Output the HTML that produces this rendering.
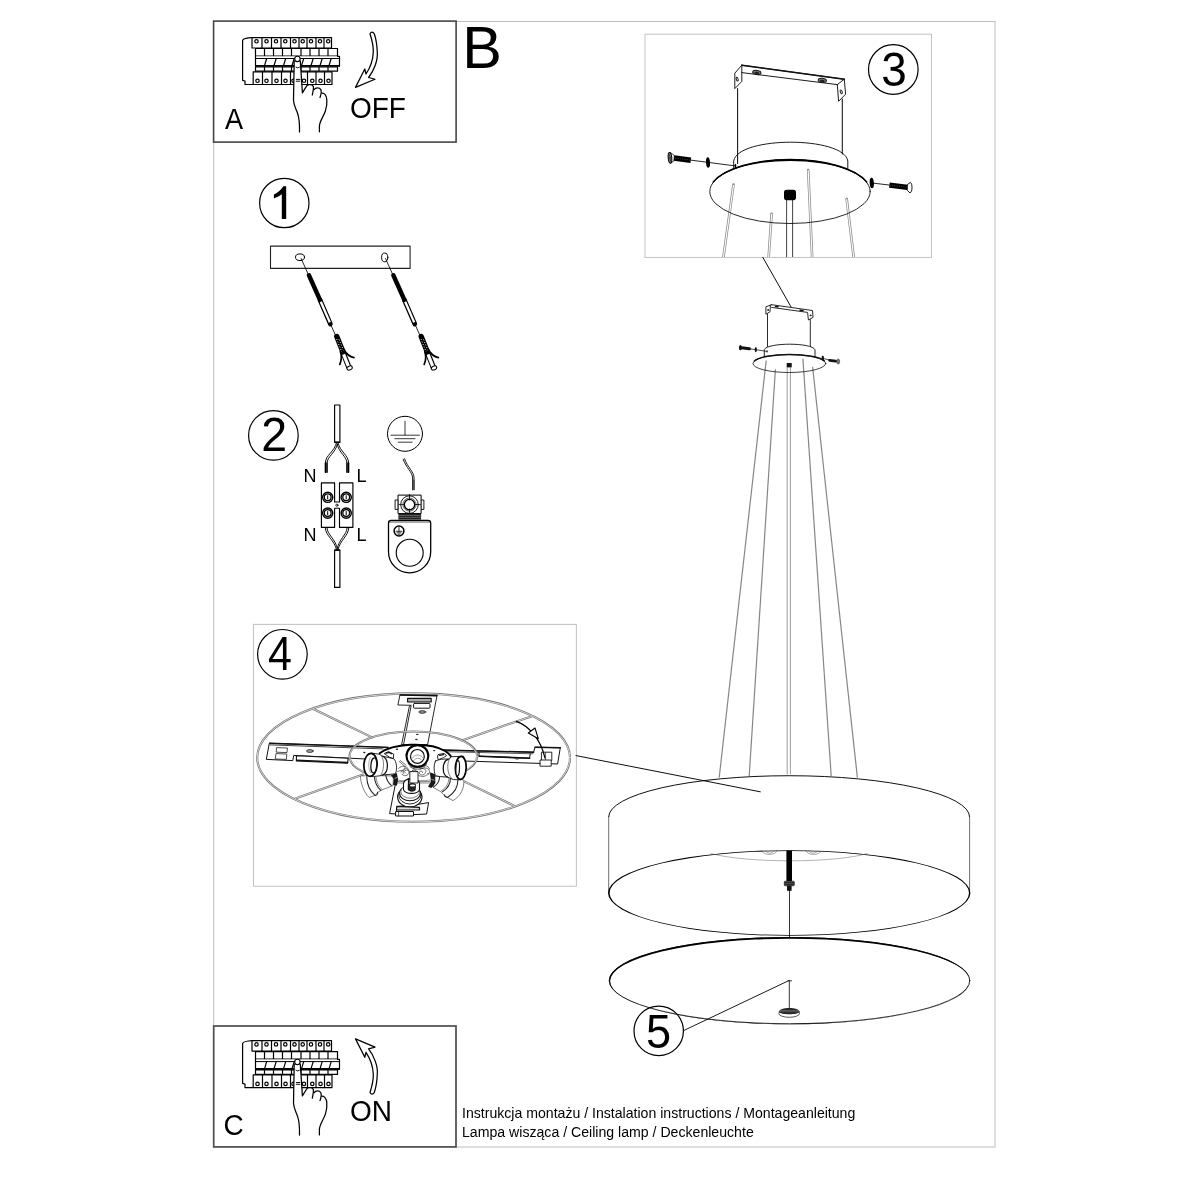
<!DOCTYPE html>
<html><head><meta charset="utf-8">
<style>
html,body{margin:0;padding:0;background:#fff;}
body{width:1200px;height:1200px;overflow:hidden;font-family:"Liberation Sans",sans-serif;}
svg{display:block;position:absolute;left:0;top:0;will-change:transform;}
text{font-family:"Liberation Sans",sans-serif;fill:#000;}
</style></head>
<body>
<svg width="1200" height="1200" viewBox="0 0 1200 1200">
<rect x="0" y="0" width="1200" height="1200" fill="#fff"/>
<!-- FRAMES -->
<g id="frames">
<rect x="213.7" y="21.45" width="781.3" height="1125.55" fill="none" stroke="#bcbcbc" stroke-width="1"/>
<rect x="645" y="34.2" width="286.45" height="223.25" fill="none" stroke="#c4c4c4" stroke-width="1"/>
<rect x="253.5" y="624.4" width="322.9" height="261.85" fill="none" stroke="#c4c4c4" stroke-width="1.05"/>
<rect x="213.6" y="21.1" width="242.5" height="121" fill="#fff" stroke="#454545" stroke-width="1.6"/>
<rect x="213.7" y="1026" width="242.3" height="120.9" fill="#fff" stroke="#4d4d4d" stroke-width="1.7"/>
</g>
<!-- TEXT -->
<g id="labels">
<text x="462.25" y="67.9" font-size="59.4">B</text>
<text transform="translate(224.9,128.9) scale(0.97,1.055)" font-size="28">A</text>
<text transform="translate(349.9,117.9) scale(1,1.055)" font-size="28">OFF</text>
<text transform="translate(223.4,1135.1) scale(1,1.055)" font-size="28">C</text>
<text transform="translate(349.9,1120.9) scale(1,1.055)" font-size="28">ON</text>
<text x="462" y="1117.9" font-size="14.1" fill="#1a1a1a">Instrukcja montażu / Instalation instructions / Montageanleitung</text>
<text x="462" y="1136.7" font-size="14.12" fill="#1a1a1a">Lampa wisząca / Ceiling lamp / Deckenleuchte</text>
<text x="303.4" y="482" font-size="18">N</text>
<text x="356.6" y="482" font-size="18">L</text>
<text x="303.4" y="540.8" font-size="18">N</text>
<text x="356.6" y="540.8" font-size="18">L</text>
</g>
<!-- NUMBER CIRCLES -->
<g id="nums" font-size="47" text-anchor="middle">
<circle cx="284.3" cy="203" r="24.7" stroke="#000" fill="none" stroke-width="1.2" stroke-linecap="round" stroke-linejoin="round"/>
<path d="M281.8,218.9 L281.8,194.3 C279.5,196 276.5,197.6 273.9,198.4 L273.9,194.6 C277.6,192.9 281.4,189.9 283.3,186.3 L286.2,186.3 L286.2,218.9 Z" fill="#000"/>
<circle cx="273.4" cy="435.4" r="24.8" stroke="#000" fill="none" stroke-width="1.2" stroke-linecap="round" stroke-linejoin="round"/><text transform="translate(261.2,451.2) scale(0.99,1.03)" text-anchor="start">2</text>
<circle cx="893.3" cy="69.5" r="24.8" stroke="#000" fill="none" stroke-width="1.2" stroke-linecap="round" stroke-linejoin="round"/><text transform="translate(881.15,85.9) scale(0.975,1.035)" text-anchor="start">3</text>
<circle cx="282.4" cy="654.3" r="24.8" stroke="#000" fill="none" stroke-width="1.2" stroke-linecap="round" stroke-linejoin="round"/><text transform="translate(267.95,670.2) scale(0.916,1.028)" text-anchor="start">4</text>
<circle cx="658.7" cy="1030.9" r="24.7" stroke="#000" fill="none" stroke-width="1.2" stroke-linecap="round" stroke-linejoin="round"/><text transform="translate(645.9,1047.9) scale(0.96,1.02)" text-anchor="start">5</text>
</g>
<!-- A/C -->
<defs><g id="brk" stroke-width="1.2" stroke="#000" fill="none" stroke-linecap="round" stroke-linejoin="round">
<path d="M252,37.6 L248.5,37.9 Q243,38.6 242.6,40.5 L242.6,80.3 L245,81 L245,84.5 L253.2,84.5" fill="#fff"/>
<rect x="252" y="37.6" width="79.5" height="10.4" fill="#fff"/>
<path d="M262,37.6V48"/>
<path d="M271.5,37.6V48"/>
<path d="M281,37.6V48"/>
<path d="M290.5,37.6V48"/>
<path d="M299,37.6V48"/>
<path d="M307,37.6V48"/>
<path d="M316,37.6V48"/>
<path d="M324,37.6V48"/>
<circle cx="256.5" cy="41.3" r="1.7"/>
<circle cx="266.5" cy="41.3" r="1.7"/>
<circle cx="276" cy="41.3" r="1.7"/>
<circle cx="285.3" cy="41.3" r="1.7"/>
<circle cx="294.5" cy="41.3" r="1.7"/>
<circle cx="302.7" cy="41.3" r="1.7"/>
<circle cx="311" cy="41.3" r="1.7"/>
<circle cx="320" cy="41.3" r="1.7"/>
<circle cx="328.2" cy="41.3" r="1.7"/>
<rect x="255.5" y="48.5" width="82" height="7.6" fill="#fff"/>
<path d="M264.5,48.5V55.9"/>
<path d="M273.5,48.5V55.9"/>
<path d="M282.5,48.5V55.9"/>
<path d="M291.5,48.5V55.9"/>
<path d="M301,48.5V55.9"/>
<path d="M310,48.5V55.9"/>
<path d="M319,48.5V55.9"/>
<path d="M328,48.5V55.9"/>
<rect x="255.5" y="56.3" width="84" height="9.8" fill="#fff" stroke="none"/><path d="M255.5,56 V66.2 M337.5,56.3 H339.5 V66.2"/><path d="M255.5,58.5 H339.5" stroke-width="1" stroke-linecap="butt"/>

<path d="M255.5,65.9 H339.5" stroke-width="1.9" stroke-linecap="butt"/>
<path d="M266.7,58.5 L264.7,65"/>
<path d="M276.2,58.5 L274.2,65"/>
<path d="M285.7,58.5 L283.7,65"/>
<path d="M294.2,58.5 L292.2,65"/>
<path d="M303.7,58.5 L301.7,65"/>
<path d="M313.2,58.5 L311.2,65"/>
<path d="M322.2,58.5 L320.2,65"/>
<path d="M331.2,58.5 L329.2,65"/>
<rect x="255.5" y="66.8" width="82" height="4.4" fill="#fff"/>
<path d="M264.5,66.8V71.2"/>
<path d="M273.5,66.8V71.2"/>
<path d="M282.5,66.8V71.2"/>
<path d="M291.5,66.8V71.2"/>
<path d="M301,66.8V71.2"/>
<path d="M310,66.8V71.2"/>
<path d="M319,66.8V71.2"/>
<path d="M328,66.8V71.2"/>
<rect x="253.2" y="71.8" width="78.8" height="12.7" fill="#fff"/>
<path d="M262.5,71.8V84.5"/>
<path d="M272,71.8V84.5"/>
<path d="M281.5,71.8V84.5"/>
<path d="M290.5,71.8V84.5"/>
<path d="M299.5,71.8V84.5"/>
<path d="M307.5,71.8V84.5"/>
<path d="M316,71.8V84.5"/>
<path d="M324.5,71.8V84.5"/>
<circle cx="257.5" cy="80.8" r="1.7"/>
<circle cx="266.5" cy="80.8" r="1.7"/>
<circle cx="276.5" cy="80.8" r="1.7"/>
<circle cx="285.5" cy="80.8" r="1.7"/>
<circle cx="293.5" cy="80.8" r="1.7"/>
<circle cx="304" cy="80.8" r="1.7"/>
<circle cx="312.3" cy="80.8" r="1.7"/>
<circle cx="320.5" cy="80.8" r="1.7"/>
<circle cx="328.5" cy="80.8" r="1.7"/>
</g>
<g id="hand" stroke-width="1.25" stroke="#000" fill="none" stroke-linecap="round" stroke-linejoin="round">
<path d="M299.5,132 C299.7,124 299.4,118.5 297.5,113 C295.6,108 293.6,105 293.5,100 L294.2,60 L300.3,60 L302.4,92.8 L307,85.4 C308.5,84.2 312.5,84.2 313.4,86.4 L313.9,89.7 C315.5,87.3 319.5,87.3 320.8,89.6 L321.8,93.2 C324,92.6 326.4,95 326.8,99.5 C327.2,104 326.8,107 325.4,111 C323.5,116.5 319.8,121 319.4,126 L319.4,131.8 Z" fill="#fff" stroke="none"/>
<path d="M299.5,132 C299.7,124 299.4,118.5 297.5,113 C295.6,108 293.6,105 293.5,100 L294.2,61"/>
<path d="M300.3,61 L302.4,92.8 L307,85.4 C308.5,84.2 312.5,84.2 313.4,86.4 C313.8,89 312.8,92 312.3,95"/>
<path d="M314,89.7 C315.5,87.3 319.5,87.3 320.8,89.6 C322,92 320.8,95 320,97.5"/>
<path d="M321.8,93.2 C324,92.6 326.4,95 326.8,99.5 C327.2,104 326.8,107 325.4,111 C323.5,116.5 319.8,121 319.4,126 L319.4,131.8"/>
<circle cx="297.4" cy="58.9" r="2.7" fill="#fff" stroke-width="1.1"/>
<path d="M295.9,67.2 Q297.7,68.8 299.5,67.2" stroke-width="0.9"/>
<path d="M296.3,79.4H299.9M296.3,81.2H299.9" stroke-width="0.95"/>
</g><path id="arr" d="M355.5,87.4 L375,79.25 L368.6,77.5 C374,70.5 378,60 377.3,52.5 C377,44 375.7,38 374.4,34 Q372,30.5 370,33.8 C372,40 373.5,46 373.3,52 C373,60 370,68 366,74 L364.8,69 Z" stroke-width="1.25" stroke="#000" fill="#fff" stroke-linecap="round" stroke-linejoin="round"/></defs>
<use href="#brk"/><use href="#hand"/><use href="#arr"/>
<g transform="translate(0,1003.1)"><use href="#brk"/><use href="#hand"/></g>
<g transform="translate(0,1126.3) scale(1,-1)"><use href="#arr"/></g>
<!-- STEP 1 -->
<g id="s1">
<rect x="270.5" y="246.1" width="139.6" height="22.3" stroke="#222" stroke-width="1.1" fill="none" stroke-linecap="round" stroke-linejoin="round"/>
<ellipse cx="300" cy="257.2" rx="4.5" ry="3.3" stroke-width="1" stroke="#000" fill="none" stroke-linecap="round" stroke-linejoin="round"/>
<ellipse cx="384.7" cy="257.4" rx="3.1" ry="4.4" stroke-width="1" stroke="#000" fill="none" stroke-linecap="round" stroke-linejoin="round"/>
<defs><g id="scr">
<path d="M301,258.2 L336.5,337.5" stroke="#000" stroke-width="0.85" fill="none"/>
<path d="M309,275.4 L320.3,300.6" stroke="#000" stroke-width="4.5" stroke-linecap="round" fill="none"/>
<path d="M320,300 L330.4,324" stroke="#000" stroke-width="4.7" stroke-linecap="round" fill="none"/>
<path d="M320.8,301.8 L329.8,322.4" stroke="#fff" stroke-width="2.3" stroke-linecap="butt" fill="none"/>
<!-- plug -->
<path d="M336.8,336.6 L344,354.6" stroke="#000" stroke-width="5.4" stroke-linecap="round" fill="none"/>
<path d="M336.6,339 L343,355" stroke="#fff" stroke-width="0.9" fill="none" stroke-dasharray="1 1.7"/>
<path d="M338.6,338.2 L345,354.2" stroke="#fff" stroke-width="0.9" fill="none" stroke-dasharray="1 1.7" stroke-dashoffset="1.3"/>
<path d="M342.6,351.4 L349,367.6" stroke="#000" stroke-width="5.4" stroke-linecap="butt" fill="none"/>
<path d="M343.6,354.4 L349.4,368.6" stroke="#fff" stroke-width="3.2" stroke-linecap="butt" fill="none"/>
<ellipse cx="349.6" cy="368" rx="2.8" ry="1.9" transform="rotate(-22 349.6 368)" fill="#fff" stroke="#000" stroke-width="1"/>
<path d="M343.6,349 C346,353.5 349.5,356.8 354,357.6" stroke="#000" fill="none" stroke-linecap="round" stroke-width="1.7"/>
<path d="M340.4,351.6 C341.8,356 341.6,360.5 339.8,364.4" stroke="#000" fill="none" stroke-linecap="round" stroke-width="1.7"/>
<path d="M346.4,352.4 C347.6,354.4 349.6,356 351.6,356.6" stroke="#000" fill="none" stroke-linecap="round" stroke-width="0.9"/>
</g></defs>
<use href="#scr"/><use href="#scr" transform="translate(84.4,0)"/>
</g>
<!-- STEP 2 -->
<g id="s2">
<rect x="334.6" y="405" width="5.3" height="37.2" stroke-width="1.15" stroke="#000" fill="none" stroke-linecap="round" stroke-linejoin="round"/>
<rect x="334.6" y="550.2" width="5.3" height="37.2" stroke-width="1.15" stroke="#000" fill="none" stroke-linecap="round" stroke-linejoin="round"/>
<!-- top wires -->
<g stroke-width="0.95" stroke="#000" fill="none" stroke-linecap="round" stroke-linejoin="round">
<path d="M336.6,442.4 C334.5,452 325.4,455 325.4,463 L325.4,472.3"/>
<path d="M337.4,444 C335.6,453 327,456.5 327,463.5 L327,472.3"/>
<path d="M337.9,442.4 C340,452 348.6,455 348.6,463 L348.6,472.3"/>
<path d="M337.1,444 C338.9,453 347,456.5 347,463.5 L347,472.3"/>
<path d="M325.4,463V472.3M327,463V472.3M347,463V472.3M348.6,463V472.3" stroke-width="1.3"/>
<!-- bottom wires -->
<path d="M325.3,528 C325.6,536 334.6,540 336.6,550"/>
<path d="M327,528 C327.4,535 335.6,539 337.3,548.5"/>
<path d="M348.8,528 C348.5,536 340,540 337.9,550"/>
<path d="M347.1,528 C346.7,535 339,539 337.3,548.5"/>
</g>
<path d="M335,442.3H339.6M335,550H339.6" stroke-width="1.6" stroke="#000" fill="none" stroke-linecap="round" stroke-linejoin="round"/>
<!-- terminal block -->
<path d="M321.4,482.8 H334.6 V502 H339.5 V482.8 H352.9 V527.4 H339.5 V508.2 H334.6 V527.4 H321.4 Z" stroke-width="1.15" stroke="#000" fill="#fff" stroke-linecap="round" stroke-linejoin="round"/>
<circle cx="336.9" cy="505.2" r="1.1" stroke-width="0.8" stroke="#000" fill="none" stroke-linecap="round" stroke-linejoin="round"/>
<g stroke="#000" fill="none" stroke-width="1.2" stroke-linecap="round" stroke-linejoin="round">
<circle cx="327.7" cy="497.3" r="5.1" stroke-width="1.4"/><circle cx="327.7" cy="497.3" r="3.4" stroke-width="1.3"/><path d="M327.7,495.7V498.90000000000003" stroke-width="1"/>
<circle cx="346.2" cy="497.3" r="5.1" stroke-width="1.4"/><circle cx="346.2" cy="497.3" r="3.4" stroke-width="1.3"/><path d="M346.2,495.7V498.90000000000003" stroke-width="1"/>
<circle cx="327.7" cy="513.1" r="5.1" stroke-width="1.4"/><circle cx="327.7" cy="513.1" r="3.4" stroke-width="1.3"/><path d="M327.7,511.5V514.7" stroke-width="1"/>
<circle cx="346.2" cy="513.1" r="5.1" stroke-width="1.4"/><circle cx="346.2" cy="513.1" r="3.4" stroke-width="1.3"/><path d="M346.2,511.5V514.7" stroke-width="1"/>
</g>
<!-- ground symbol -->
<circle cx="405" cy="433.8" r="17.5" stroke-width="1" stroke="#000" fill="none" stroke-linecap="round" stroke-linejoin="round"/>
<path d="M405,421.2V435.2M390.9,435.2H419.4M394.9,438.7H415M398.2,442.2H412.2" stroke-width="0.9" stroke="#222" fill="none" stroke-linecap="round" stroke-linejoin="round"/>
<!-- ground wire -->
<path d="M403.2,459.3 C406,468 412.6,472 412.6,478 L412.6,489.7" stroke-width="0.9" stroke="#000" fill="none" stroke-linecap="round" stroke-linejoin="round"/>
<path d="M404.6,458.8 C407.4,467.5 414,471.5 414,477.8 L414,489.7" stroke-width="0.9" stroke="#000" fill="none" stroke-linecap="round" stroke-linejoin="round"/>
<path d="M412.6,480V489.7M414,480V489.7" stroke-width="1.05" stroke="#333" stroke="#000" fill="none" stroke-linecap="round" stroke-linejoin="round"/>
<!-- ground terminal -->
<rect x="395.5" y="500" width="3" height="9.4" stroke-width="0.9" stroke="#000" fill="none" stroke-linecap="round" stroke-linejoin="round"/>
<rect x="421.1" y="500" width="2.8" height="9.4" stroke-width="0.9" stroke="#000" fill="none" stroke-linecap="round" stroke-linejoin="round"/>
<rect x="398.4" y="495.1" width="22.7" height="18.4" stroke-width="1" stroke="#000" fill="#fff" stroke-linecap="round" stroke-linejoin="round"/>
<circle cx="409.5" cy="504.6" r="8.8" stroke-width="0.9" stroke="#000" fill="none" stroke-linecap="round" stroke-linejoin="round"/>
<circle cx="409.5" cy="504.6" r="5.2" stroke-width="1.3" stroke="#000" fill="none" stroke-linecap="round" stroke-linejoin="round"/>
<circle cx="409.5" cy="504.6" r="6.6" stroke-width="0.6" stroke="#000" fill="none" stroke-linecap="round" stroke-linejoin="round"/>
<path d="M409.5,494.5V500M409.5,509V514M399,504.6H404.5M414.5,504.6H420.5" stroke-width="0.8" stroke="#000" fill="none" stroke-linecap="round" stroke-linejoin="round"/>
<rect x="398.4" y="513.6" width="22.7" height="6" fill="#222"/>
<path d="M398.4,515.5H421.1M398.4,517.4H421.1" stroke="#999" stroke-width="0.5"/>
<!-- plate -->
<path d="M388.5,523 Q388.5,520.3 391.2,520.3 L428,520.3 Q430.7,520.3 430.7,523 L430.7,551.7 A21.1,21.1 0 0 1 388.5,551.7 Z" stroke-width="1.3" stroke="#000" fill="#fff" stroke-linecap="round" stroke-linejoin="round"/>
<path d="M389,522H430.2" stroke-width="0.7" stroke="#000" fill="none" stroke-linecap="round" stroke-linejoin="round"/>
<circle cx="409.7" cy="552.8" r="13.5" stroke-width="1.1" stroke="#000" fill="none" stroke-linecap="round" stroke-linejoin="round"/>
<circle cx="399" cy="531" r="4.9" stroke-width="1.5" stroke="#000" fill="none" stroke-linecap="round" stroke-linejoin="round"/>
<path d="M399,527.5V531.3M396,531.3H402M397,532.8H401M398,534.2H400" stroke-width="0.8" stroke="#000" fill="none" stroke-linecap="round" stroke-linejoin="round"/>
</g>
<!-- STEP 3 -->
<g id="s3">
<!-- wires (gray double lines) clipped to box -->
<clipPath id="c3"><rect x="645.5" y="34.7" width="285.5" height="222.2"/></clipPath>
<g clip-path="url(#c3)">
<g stroke="#8a8a8a" stroke-width="2.6" fill="none" stroke-linecap="round">
<path d="M733.5,184.6 L723.3,258"/><path d="M771.6,213.7 L768.6,258"/><path d="M808.2,170 L812.2,258"/><path d="M846.7,199 L853.8,258"/>
</g>
<g stroke="#fff" stroke-width="1.1" fill="none" stroke-linecap="round">
<path d="M733.5,185.2 L723.3,258"/><path d="M771.6,214.3 L768.6,258"/><path d="M808.2,170.6 L812.2,258"/><path d="M846.7,199.6 L853.8,258"/>
</g>
<path d="M786.6,199.5V258M792.6,199.5V258" stroke="#444" stroke-width="1" fill="none"/>

</g>
<!-- bracket -->
<g stroke-width="0.95" stroke="#111" fill="none" stroke-linecap="round" stroke-linejoin="round">
<path d="M741.8,65.2 L844.3,79.2 L845.6,94.2 L838.6,101.3 L837.3,84.6 L741.8,72.6"/>
<path d="M741.8,65.2 L734.8,73.2 L734.8,88.6 L741.8,81.4 L741.8,65.2"/>
<path d="M837.3,84.6 L844.3,79.2"/>
<path d="M741.8,65.2 L844.3,79.2" stroke-width="1.5"/>
<ellipse cx="756.8" cy="72.5" rx="4.2" ry="2.1" transform="rotate(8 756.8 72.5)" fill="#777"/>
<ellipse cx="756.8" cy="72.9" rx="2.4" ry="1.1" transform="rotate(8 756.8 72.9)" fill="#222" stroke="none"/>
<ellipse cx="822.3" cy="80.4" rx="4.2" ry="2.1" transform="rotate(8 822.3 80.4)" fill="#777"/>
<ellipse cx="822.3" cy="80.8" rx="2.4" ry="1.1" transform="rotate(8 822.3 80.8)" fill="#222" stroke="none"/>
<ellipse cx="737.2" cy="79.2" rx="0.9" ry="2" transform="rotate(-20 737.2 79.2)"/>
<ellipse cx="841.2" cy="91.8" rx="0.9" ry="2" transform="rotate(-20 841.2 91.8)"/>
<path d="M737.6,88.4 V163.5 M842.3,99 V154" stroke-width="1.05"/>
</g>
<!-- canopy upper -->
<path d="M733.7,168 L733.7,161 C736,148 765,142.2 790.7,142.2 C818,142.2 846,148.5 847.8,161 L847.8,168.5" stroke-width="0.95" stroke="#111" fill="none" stroke-linecap="round" stroke-linejoin="round"/>
<!-- canopy disk -->
<ellipse cx="790" cy="191.6" rx="80.2" ry="31.9" stroke-width="0.9" stroke="#111" fill="none" stroke-linecap="round" stroke-linejoin="round"/>
<path fill="#000" d="M709.6,191.6 A80.4,32.3 0 0 1 870.4,191.6 A80.4,30.7 0 0 0 709.6,191.6 Z"/><path d="M713.3,182 A80.2,31.9 0 0 1 866.7,182" stroke="#000" stroke-width="1.4" fill="none" stroke-linecap="round"/>
<!-- nut -->
<rect x="784" y="189.8" width="12" height="10.4" rx="2.6" fill="#000"/>
<!-- left screw -->
<path d="M690.6,160.1 L735.2,165.9" stroke="#000" stroke-width="0.85" fill="none"/>
<path d="M670.4,152.6 L674.2,155.3 L674.2,160.8 L670.4,163.2 Z" fill="#fff" stroke="#000" stroke-width="0.7"/>
<path d="M674,158 L690.8,160.25" stroke="#000" stroke-width="5.5" fill="none"/>
<path d="M675,158.1 L690,160.1" stroke="#666" stroke-width="1" stroke-dasharray="0.5 1.3" fill="none"/>
<ellipse cx="670" cy="157.9" rx="1.8" ry="5.3" transform="rotate(-5 670 157.9)" fill="#777" stroke="#000" stroke-width="1"/>
<path d="M669.2,154L670.8,162M668.8,158.4L671.2,157.4" stroke="#222" stroke-width="0.6" fill="none"/>
<ellipse cx="708" cy="162.5" rx="2" ry="5.2" transform="rotate(-4 708 162.5)" fill="#000"/>
<ellipse cx="735.5" cy="165.9" rx="0.8" ry="2.2" fill="#000"/>
<!-- right screw -->
<path d="M872,183 L889.8,185.1" stroke="#000" stroke-width="0.85" fill="none"/>
<path d="M889.4,185.1 L907.6,187.4" stroke="#000" stroke-width="5.3" fill="none"/>
<path d="M890.4,185.3 L906.8,187.3" stroke="#666" stroke-width="1" stroke-dasharray="0.5 1.3" fill="none"/>
<path d="M907.4,184.6 L910.4,182.4 C912.6,183.4 912.6,192.2 910,193 L907.2,190.2 Z" fill="#fff" stroke="#000" stroke-width="0.9"/>
<ellipse cx="871.8" cy="183" rx="2.1" ry="5.3" transform="rotate(-4 871.8 183)" fill="#000"/>
<!-- leader -->
<path d="M762.8,257.3 L790.9,306.7" stroke-width="0.95" stroke="#000" fill="none" stroke-linecap="round" stroke-linejoin="round"/>
</g>
<!-- SMALL LAMP TOP -->
<g id="lamp">
<g stroke="#868686" stroke-width="1.2" fill="none">
<path d="M766.2,360.6 L719.2,777.6"/><path d="M775.4,369.2 L749.2,776"/><path d="M802.9,358.6 L831.2,776"/><path d="M812.6,366.8 L857.4,777.6"/>
<path d="M787.2,367.6V774.4M790.4,367.6V774.4" stroke="#909090" stroke-width="0.9"/>
</g>
<g stroke-width="0.9" stroke="#111" fill="none" stroke-linecap="round" stroke-linejoin="round">
<path d="M771.7,304.7 L812.5,310.5 L813,317.4 L808.4,320 L807.6,312.4 L771.7,307.4"/>
<path d="M771.7,304.7 L765.9,306.8 L765.9,314.2 L770,311.8 L770.4,305.2"/>
<path d="M775.5,306.4 L778,306.8 M800,310.2 L803,310.6" stroke-width="1.5"/>
<path d="M767.5,314 V346.5 M810.3,319.6 V346.5"/>
<circle cx="768" cy="310" r="0.5"/><circle cx="810.5" cy="315.4" r="0.5"/>
<path d="M764.3,356 L764.3,349.5 C766,346 778,344.2 789.6,344.2 C801.5,344.2 813.5,346 815,349.8 L815,356.5"/>
<ellipse cx="789.4" cy="363.5" rx="36.4" ry="9" stroke-width="0.8"/>
<path d="M754.5,361 C758,357 774,354.4 789.4,354.4 C805,354.4 821,357 824.3,361" stroke-width="1.5"/>
</g>
<rect x="786.7" y="363" width="5" height="4.4" fill="#111"/>
<!-- screws small -->
<path d="M749,348.7 L767,351.4" stroke-width="0.7" stroke="#000" fill="none" stroke-linecap="round" stroke-linejoin="round"/>
<path d="M741.5,347.8 L749.4,348.8" stroke="#111" stroke-width="3" fill="none" stroke-linecap="round"/>
<ellipse cx="740.4" cy="347.7" rx="1.5" ry="2.6" fill="#111"/>
<ellipse cx="755.8" cy="349.6" rx="1.1" ry="2.6" fill="#111"/>
<ellipse cx="767" cy="351.4" rx="0.6" ry="1.2" fill="#111"/>
<path d="M822.8,358.3 L830,360.3" stroke-width="0.7" stroke="#000" fill="none" stroke-linecap="round" stroke-linejoin="round"/>
<path d="M829.6,360.3 L835.6,361.2" stroke="#111" stroke-width="2.8" fill="none" stroke-linecap="round"/>
<ellipse cx="838.2" cy="361.5" rx="1.5" ry="2.6" fill="#777" stroke="#222" stroke-width="0.5"/>
<ellipse cx="822.8" cy="358.3" rx="1.2" ry="2.7" fill="#111"/>
</g>
<!-- SHADE -->
<g id="shade">
<path d="M608.7,816.7 A180.45,41 0 0 1 969.6,816.7" stroke-width="1" stroke="#111" fill="none" stroke-linecap="round" stroke-linejoin="round"/>
<path d="M608.7,816.7 V893 M969.6,816.7 V893" stroke-width="0.7" stroke="#333" fill="none" stroke-linecap="round" stroke-linejoin="round"/>
<path fill-rule="evenodd" fill="#000" d="M608,893 A181.2,42.85 0 1 0 970.4,893 A181.2,42.85 0 1 0 608,893 Z M609.6,893.05 A179.7,42 0 1 1 969,893.05 A179.7,42 0 1 1 609.6,893.05 Z"/>
<path d="M711,853.6 C730,858.5 760,860.8 790,860.8 C820,860.8 850,858.5 867,853.6" stroke-width="0.5" stroke="#666" fill="none" stroke-linecap="round" stroke-linejoin="round"/>
<path d="M762,851.2 C763,855.5 776,856 777,850.6 M765.5,851 C767,854 773,854 774,850.8" stroke-width="0.5" stroke="#555" fill="none" stroke-linecap="round" stroke-linejoin="round"/>
<path d="M806,850.6 C807,856 820,855.5 821,851.2 M809,850.8 C810,854 816,854 817.5,851" stroke-width="0.5" stroke="#555" fill="none" stroke-linecap="round" stroke-linejoin="round"/>
<rect x="786.4" y="850.6" width="5.6" height="30.6" fill="#000"/>
<rect x="784.3" y="881.2" width="10" height="4.6" rx="0.8" fill="#555"/>
<path d="M784.3,882.6H794.3M784.3,884.4H794.3" stroke="#111" stroke-width="0.7"/>
<rect x="784.3" y="881.2" width="10" height="4.6" rx="0.8" fill="none" stroke="#111" stroke-width="0.6"/>
<rect x="787" y="885.6" width="4.6" height="5.2" fill="#111"/>
<path d="M789.5,890.5 V937" stroke-width="0.8" stroke="#000" fill="none" stroke-linecap="round" stroke-linejoin="round"/>
<!-- leader from 4 -->
<path d="M576,755.6 L760.3,791.8" stroke-width="0.95" stroke="#000" fill="none" stroke-linecap="round" stroke-linejoin="round"/>
</g>
<!-- DIFFUSER -->
<g id="diff">
<ellipse cx="789.5" cy="980.6" rx="180.3" ry="43.1" stroke-width="0.85" stroke="#111" fill="none" stroke-linecap="round" stroke-linejoin="round"/>
<path fill="#000" fill-rule="evenodd" d="M609,980.6 A180.5,43.7 0 0 1 970,980.6 A180.5,43.7 0 0 1 609,980.6 Z M610.1,981.3 A179.95,42.6 0 0 1 970,981.3 A179.95,42.6 0 0 1 610.1,981.3 Z"/>
<path d="M788,980.8 H791.6 M789.3,980.8 V1008.5" stroke-width="0.8" stroke="#000" fill="none" stroke-linecap="round" stroke-linejoin="round"/>
<ellipse cx="789.2" cy="1013.4" rx="10.4" ry="3.9" fill="#fff" stroke="#111" stroke-width="0.7"/>
<path d="M778.7,1012 C779.5,1006.6 799,1006.6 799.8,1012 C798,1015 780.5,1015 778.7,1012Z" fill="#222"/>
<path d="M779.6,1010.4 H798.8 M779,1011.8H799.4" stroke="#aaa" stroke-width="0.45"/>
<path d="M684.2,1030.3 L788.4,980.8" stroke-width="0.9" stroke="#000" fill="none" stroke-linecap="round" stroke-linejoin="round"/>
</g>
<!-- STEP 4 -->
<g id="s4" stroke-linecap="round" stroke-linejoin="round" fill="none">
<!-- rope-like outer/inner rings and spokes -->
<g stroke="#707070" stroke-width="2.1">
<ellipse cx="413.6" cy="757.6" rx="156.4" ry="64.2"/>
<path d="M313.4,709 L372,737.4 M531.2,716.4 L461.8,740.4 M295.4,798.4 L363,774.6 M513.8,805.6 L464.6,781.6"/>
</g>
<g stroke="#fff" stroke-width="0.7">
<ellipse cx="413.6" cy="757.6" rx="156.4" ry="64.2"/>
<path d="M313.4,709 L372,737.4 M531.2,716.4 L461.8,740.4 M295.4,798.4 L363,774.6 M513.8,805.6 L464.6,781.6"/>
</g>
<!-- vertical arm upper -->
<path d="M400.3,695 L437,695.6 L427.6,744.6 L401.6,744.6 L409.4,706.2 L411.3,705.3 L398.3,705 Z" fill="#fff" stroke="#111" stroke-width="0.9"/>
<path d="M400.3,695 L437,695.6" stroke="#111" stroke-width="1.6"/>
<path d="M411,706.4 L403.6,744.4" stroke="#111" stroke-width="0.9"/>
<rect x="407.6" y="698.4" width="23.6" height="3.6" fill="#aaa" stroke="#111" stroke-width="1.1"/>
<rect x="413.6" y="703.4" width="16.4" height="4.8" rx="0.8" fill="#fff" stroke="#111" stroke-width="1"/>
<ellipse cx="422.3" cy="712" rx="3.5" ry="1.4" fill="#888" stroke="#222" stroke-width="0.7"/>
<ellipse cx="417.3" cy="734.4" rx="1.3" ry="0.7" fill="#222"/><ellipse cx="416.4" cy="739.5" rx="1.3" ry="0.7" fill="#222"/>
<!-- left arm -->
<path d="M269.7,743.3 L388,747.4 L384,758.8 L366,759 L293.7,755.4 L292.8,760.6 L266.7,759.4 Z" fill="#fff" stroke="#111" stroke-width="1"/>
<path d="M270,744.9 L383,748.9" stroke="#111" stroke-width="0.8"/>
<path d="M269.7,743.3 L388,747.4" stroke="#111" stroke-width="1.4"/>
<path d="M296.4,755.8 L296.4,761 L347.6,763.2 L348.2,758.3 Z" fill="#fff" stroke="#111" stroke-width="1.1"/>
<path d="M296.6,760.2 L347.6,762.4" stroke="#111" stroke-width="1.5"/>
<path d="M277,747.6 L287.4,748 L287,752.6 L276.6,752.2 Z M276.4,753.6 L286.8,754 L286.4,759.4 L275.6,759 Z" stroke="#222" stroke-width="0.8"/>
<ellipse cx="309.9" cy="751" rx="3.4" ry="1.5" fill="#999" stroke="#222" stroke-width="0.7"/>
<ellipse cx="364.3" cy="752.5" rx="1.2" ry="0.7" fill="#222"/>
<!-- right arm -->
<path d="M440,750 L533.6,752.2 L535,747.3 L560.3,747.7 L557.6,764 L540,763.4 L476.4,761.4 L440,760.4 Z" fill="#fff" stroke="#111" stroke-width="1"/>
<path d="M440,750 L533.6,752.2 M535,747.3 L560.3,747.7" stroke="#111" stroke-width="1.5"/>
<path d="M445,751.7 L533,753.8" stroke="#111" stroke-width="0.7"/>
<path d="M479,752.2 L479,756.2 L529.6,758.2 L530.2,753.8" stroke="#111" stroke-width="1"/>
<path d="M479,756.2 L529.6,758.2" stroke="#111" stroke-width="1.6"/>
<path d="M514.6,758.4 Q517,760.4 519.4,758.6" stroke="#222" stroke-width="0.7"/>
<rect x="541.8" y="752.2" width="10" height="8.4" fill="#fff" stroke="#111" stroke-width="0.9"/>
<path d="M545.6,752.4V760" stroke="#222" stroke-width="0.7"/>
<rect x="540.4" y="760" width="10.8" height="6.2" fill="#fff" stroke="#111" stroke-width="0.9"/>
<!-- vertical arm lower -->
<path d="M395.4,784 L389.6,813.6 L396.4,814 L396.8,806.6 L419,804.2 L428.6,802.6 L426.6,814 L414,814.6" fill="#fff" stroke="#111" stroke-width="1"/>
<!-- inner ring (over arms) -->
<ellipse cx="413.3" cy="756.4" rx="63.8" ry="25" stroke="#707070" stroke-width="2"/>
<ellipse cx="413.3" cy="756.4" rx="63.8" ry="25" stroke="#fff" stroke-width="0.6"/>
<!-- lower-left socket (light) -->
<g fill="none" stroke-linecap="round">
<path d="M360.4,776.3 C360.6,783 364,793 369.2,797.5 L375.6,795.2 L377.5,792.5 L382.5,789.6 L393,785.6 L393.5,776 L374,775.5 Z" fill="#fff" stroke="#555" stroke-width="0.75"/>
<path d="M366.7,776.7 C367,784 370.5,791.5 375,795.4 C377,795.2 378.2,793.6 377.5,792.3" stroke="#222" stroke-width="1.05"/>
<path d="M374.4,777.3 C375,783 377.5,787.5 380.8,790.4" stroke="#222" stroke-width="1.05"/>
<path d="M375.9,777.3 C376.5,782.5 378.9,787 382.2,789.6" stroke="#444" stroke-width="0.65"/>
<path d="M385.8,775.4 C386.5,779.5 388.5,783 391.3,785.4" stroke="#222" stroke-width="1.05"/>
</g>
<!-- lower-right socket (light) -->
<g fill="none" stroke-linecap="round">
<path d="M463.8,780.4 C464.4,788 461,796 452.9,800.6 L444.6,795.8 L440.8,791.7 L433.3,787.5 L433,776.5 L446,776.3 Z" fill="#fff" stroke="#555" stroke-width="0.75"/>
<path d="M457.9,779.6 C458,787 454,793.5 447.5,797.5 C445.5,797.2 444.2,796 444.6,794.8" stroke="#222" stroke-width="1.05"/>
<path d="M450.4,777.9 C450.6,783.5 447.5,788.5 442.5,791.7" stroke="#222" stroke-width="1.05"/>
<path d="M448.9,777.9 C449.1,783 446.2,787.6 441.4,790.8" stroke="#444" stroke-width="0.65"/>
<path d="M439.6,777.1 C439.4,781.5 437,785 433.4,787.1" stroke="#222" stroke-width="1.05"/>
</g>
<!-- bottom socket -->
<path d="M397,782 H430 M397,783.2 H430" stroke="#777" stroke-width="0.6" fill="none"/>
<g stroke="#111" stroke-width="1" fill="#fff">
<ellipse cx="409.8" cy="797" rx="12.2" ry="10" stroke-width="1.15"/>
<ellipse cx="409.9" cy="795.2" rx="11.2" ry="8.8" stroke-width="0.9"/>
<ellipse cx="410" cy="793.2" rx="10.4" ry="7.6" stroke-width="1.1"/>
<ellipse cx="410.2" cy="791.6" rx="9.4" ry="6.6" stroke-width="0.7" stroke="#444"/>
<path d="M403.5,789.6 L403.5,783.4 C404.5,777.4 418.5,777.4 419.5,783.4 L419.5,789.6 C418,794.6 405,794.6 403.5,789.6 Z" stroke-width="1.1"/>
<path d="M408.5,778.6 V789.6" stroke-width="1.2"/>
<path d="M408.6,784.4 C410,783.2 414.4,783.2 415.6,784.6 L415.2,790.2 C413.6,791.6 410,791.6 408.6,790.2 Z" fill="#222" stroke-width="0.8"/>
<ellipse cx="412.6" cy="785.6" rx="2.7" ry="1" fill="#fff" stroke="none"/>
</g>
<!-- bottom bracket -->
<path d="M396.8,806.3 L419.5,807.4 L419.5,810 L396.5,810 Z" fill="#ddd" stroke="#111" stroke-width="1.2"/>
<rect x="396" y="811.5" width="17.5" height="4.5" fill="#fff" stroke="#111" stroke-width="1"/><path d="M398.6,811.6V816" stroke="#111" stroke-width="0.7"/>
<!-- hub dome -->
<path d="M379.6,753.2 C386,748.6 398,745.4 410,744.8 C424,744.2 438,746.6 445,751 L451,756.2 L451,760 L436,762 L434,778 L396,778 L394,760 L380,757 Z" fill="#fff" stroke="none"/>
<path d="M379.6,753.2 C386,748.6 398,745.4 410,744.8 C424,744.2 438,746.6 445,751 C447.6,752.6 449.6,754.2 451,756.2" stroke="#000" stroke-width="1.9"/>
<ellipse cx="397" cy="749.2" rx="1.2" ry="0.7" fill="#111"/><ellipse cx="434.2" cy="750.6" rx="1.2" ry="0.7" fill="#111"/>
<!-- hub tabs -->
<path d="M384.6,753.4 L388.4,751.6 L393.6,754 L393.4,758.6 L389.6,757.2 Z" fill="#fff" stroke="#111" stroke-width="0.9"/>
<path d="M386.2,753.2 L389,752.4 L391.6,753.8" stroke="#111" stroke-width="1.2"/>
<path d="M437.6,756.6 L438,754.6 L444,753.4 L446.6,755.6 L443.6,757.6 L438.6,759.6 Z" fill="#fff" stroke="#111" stroke-width="0.9"/>
<path d="M439.6,755.4 L443.6,754.6" stroke="#111" stroke-width="1.2"/>
<!-- wires tangle -->
<g stroke="#333" stroke-width="0.7">
<path d="M399.2,761.4 L404.6,766.2 C407,768.4 401,771 403.6,773.6 M400.4,760.6 L406,765.2"/>
<path d="M401,772 C404,767 409,768 409,772 C409,776 403,777 402,774"/>
<path d="M419.6,769 C424,767 427.6,770 425,773.4 C423,776 419,775 419.4,772.4 C419.6,770.4 423,770.8 422.6,772.6"/>
<path d="M425,768 C429.6,768 431,772 428,775"/>
<path d="M405,770.6 C407,769.6 409,770 410,771.6"/>
<path d="M398.6,768.4 C402,764.6 407,766 408.6,769.4 M397.6,771.6 C401,769.6 404,770.6 405.6,773 M420,766.6 C423.4,764.4 428.6,765.4 429.4,769 M418.6,775.4 C422,777.4 426.6,776.6 428,773.4"/>
</g>
<!-- central block -->
<path d="M410.2,771.6 L418,771.6 L418,783 L410.2,783 Z" fill="#fff" stroke="#111" stroke-width="0.9"/>
<path d="M411.6,771.4 C412,769.4 416.4,769.4 416.8,771.4" stroke="#111" stroke-width="0.9"/>
<!-- clips -->
<path d="M391.8,775.4 L396.4,773.6 L397.6,778.6 L396.6,785.2 L393.6,784.6 L394.4,779.6 Z" fill="#1a1a1a" stroke="#000" stroke-width="0.8"/>
<path d="M395,778.4 L397.4,777.2" stroke="#fff" stroke-width="0.6"/>
<path d="M430.6,773 L434.6,774.6 L435,783 L431.4,787.6 L428.6,786.6 L431.4,781.6 Z" fill="#1a1a1a" stroke="#000" stroke-width="0.8"/>
<path d="M431.8,779.6 L434,780.2" stroke="#fff" stroke-width="0.6"/>
<!-- left socket -->
<g stroke="#111" stroke-width="0.9" fill="#fff">
<path d="M372,753.3 C377,753.4 381,754.6 382.6,756.2 L393.8,758.8 C396.6,762 397.4,768 395.5,773.8 L382.6,775 C379,776.2 374,776.6 370.5,776.5 Z"/>
<path d="M382.6,756.2 C388.9,759 389.1,772 382.6,775" fill="none" stroke-width="1.25"/>
<path d="M381.2,755.4 C384.6,760 384.4,771 380.4,775.8" fill="none" stroke-width="0.7" stroke="#444"/>
<ellipse cx="370.5" cy="764.8" rx="6.6" ry="11.5" transform="rotate(4 370.5 764.8)" stroke="#000" stroke-width="1.7"/>
<ellipse cx="373.8" cy="765.4" rx="2.9" ry="7.6" transform="rotate(4 373.8 765.4)" stroke-width="1.25"/>
<path d="M370.6,757.2 C368.2,760 368,769.6 370.4,772.6" fill="none" stroke="#777" stroke-width="0.6"/>
</g>
<!-- right socket -->
<g stroke="#111" stroke-width="0.9" fill="#fff">
<path d="M435.4,761 C439,759.4 444,758.6 448.3,759.2 L451.7,756.7 L463.7,756.3 L460.8,779.8 L453.3,779.6 L447.5,777.1 C443,777 438,776.4 435.4,775.6 C433.6,771 433.6,765 435.4,761 Z"/>
<path d="M448.3,759.2 C441.8,761.6 441.6,774.4 447.5,777.1" fill="none" stroke-width="1.25"/>
<path d="M450,758.3 C446.6,762 446.8,774 451.7,778.4" fill="none" stroke-width="0.7" stroke="#444"/>
<ellipse cx="460.8" cy="767.9" rx="5.4" ry="11.5" transform="rotate(2 460.8 767.9)" stroke="#000" stroke-width="1.7"/>
<ellipse cx="457.7" cy="768.3" rx="1.8" ry="7.6" transform="rotate(2 457.7 768.3)" stroke-width="1.2"/>
</g>
<!-- top socket -->
<circle cx="417.4" cy="756" r="10.9" fill="#fff" stroke="#000" stroke-width="2.1"/>
<circle cx="417.4" cy="756.4" r="6.9" fill="#fff" stroke="#111" stroke-width="1.2"/>
<path d="M412.4,758 C414,754.4 420,753.6 422.6,757.6 M413.6,760.6 C416,757.6 420,757.6 421.6,760" stroke="#666" stroke-width="0.6"/>
<path d="M408.4,764 C411,768.4 423,768.8 426.4,764.6 M409.8,766.4 C413,770 421.6,770.2 424.8,767" stroke="#222" stroke-width="0.8"/>
<!-- rotation arrow -->
<path d="M516.3,721.4 C528,725.6 540.6,738 545,758" stroke="#000" stroke-width="1.2"/>
<path d="M528.3,733 L535,728 L538.3,738.7 Z" fill="#fff" stroke="#000" stroke-width="1.1"/>
</g>
<!--SECTIONS-->
</svg>
</body></html>
